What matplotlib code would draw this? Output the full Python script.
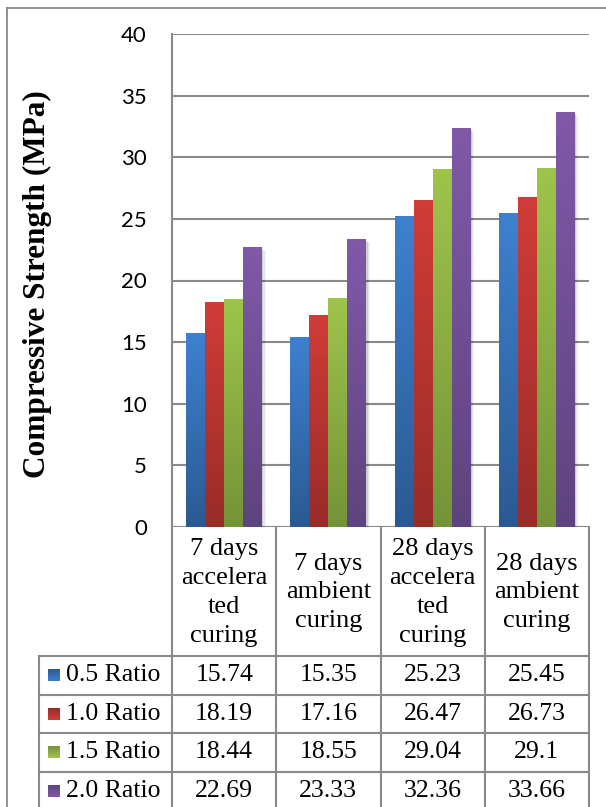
import numpy as np
import matplotlib
matplotlib.use("Agg")
import matplotlib.pyplot as plt
from matplotlib.lines import Line2D
from matplotlib.colors import to_rgb

categories = ["7 days\naccelera\nted\ncuring", "7 days\nambient\ncuring",
              "28 days\naccelera\nted\ncuring", "28 days\nambient\ncuring"]
series_names = ["0.5 Ratio", "1.0 Ratio", "1.5 Ratio", "2.0 Ratio"]
ratio_05 = [15.74, 15.35, 25.23, 25.45]
ratio_10 = [18.19, 17.16, 26.47, 26.73]
ratio_15 = [18.44, 18.55, 29.04, 29.1]
ratio_20 = [22.69, 23.33, 32.36, 33.66]
y_ticks = [0, 5, 10, 15, 20, 25, 30, 35, 40]

all_series = [ratio_05, ratio_10, ratio_15, ratio_20]
# (top colour, bottom colour) for the Excel-style gradient
grad = [("#3e80d0", "#2b5a93"), ("#d03c38", "#992c29"),
        ("#9ec44b", "#759338"), ("#8059a8", "#5e447e")]

W, H = 606, 807
fig = plt.figure(figsize=(W / 100, H / 100), dpi=100)
serif = "Liberation Serif"
grid_col = "#8a8a8a"


def fx(px):
    return px / W


def fy(py):
    return 1 - py / H


def gradient_img(top, bottom, n=64):
    t = np.linspace(0, 1, n)[:, None]
    a = np.array(to_rgb(bottom))
    b = np.array(to_rgb(top))
    img = a[None, :] * (1 - t) + b[None, :] * t
    return img[:, None, :]


# outer border of the chart object
fig.add_artist(Line2D([fx(7), fx(7)], [fy(8), 0], color=grid_col, lw=1.3))
fig.add_artist(Line2D([fx(7), 1], [fy(8), fy(8)], color=grid_col, lw=1.3))

# chart area
left, right, top, bottom = 172, 589, 34, 527
ax = fig.add_axes([fx(left), fy(bottom), fx(right - left), (bottom - top) / H])
n_cat = len(categories)
bw = 0.182
for s, vals in enumerate(all_series):
    for i, v in enumerate(vals):
        x0 = i + 0.5 + (s - 2) * bw
        # soft shadow
        for k, a in enumerate([0.10, 0.06, 0.04]):
            d = 0.012 * (k + 1)
            ax.add_patch(plt.Rectangle((x0 + d, 0), bw, v - 0.1 * (k + 1), color="black",
                                       alpha=a, lw=0, zorder=2))
        ax.imshow(gradient_img(*grad[s]), extent=(x0, x0 + bw, 0, v), origin="lower",
                  aspect="auto", zorder=3, interpolation="bilinear")

ax.set_xlim(0, n_cat)
ax.set_ylim(0, 40)
ax.set_yticks(y_ticks)
ax.set_xticks([])
ax.yaxis.grid(True, color=grid_col, lw=1.5)
ax.set_axisbelow(True)
for sp in ["top", "right", "bottom"]:
    ax.spines[sp].set_visible(False)
ax.spines["left"].set_color(grid_col)
ax.spines["left"].set_linewidth(1.5)
ax.tick_params(axis="y", length=0, pad=18, labelsize=16)
for lab in ax.get_yticklabels():
    lab.set_fontfamily("Lato")

fig.text(fx(37), fy(284), "Compressive Strength (MPa)", rotation=90, ha="center",
         va="center", fontsize=22.5, fontweight="bold", family=serif)

# data table below the chart
tleft = 39
unit = (right - left) / n_cat
tx0 = (tleft - left) / unit
ta = fig.add_axes([fx(tleft), 0, fx(right - tleft), (H - bottom) / H])

lc = dict(color=grid_col, lw=1.5, clip_on=False)
head_h = 129
row_h = 38.5
rows_y = [head_h + r * row_h for r in range(len(series_names) + 1)]
for i in range(n_cat + 1):
    ta.plot([i, i], [0, H - bottom], **lc)
ta.plot([tx0, tx0], [rows_y[0], H - bottom], **lc)
for y in rows_y:
    ta.plot([tx0, n_cat], [y, y], **lc)

for i, c in enumerate(categories):
    ta.text(i + 0.5, head_h / 2 + 1, c, ha="center", va="center", fontsize=19,
            family=serif, linespacing=1.4)

key = 12 / unit
for s, name in enumerate(series_names):
    yc = rows_y[s] + row_h / 2
    kx = tx0 + 9 / unit
    ta.imshow(gradient_img(*grad[s]), extent=(kx, kx + key, yc + 6, yc - 6),
              origin="upper", aspect="auto", zorder=3)
    ta.text(tx0 + 27 / unit, yc, name, ha="left", va="center", fontsize=18.5, family=serif)
    for i, v in enumerate(all_series[s]):
        ta.text(i + 0.5, yc, f"{v:g}", ha="center", va="center", fontsize=18.5, family=serif)
ta.set_xlim(tx0, n_cat)
ta.set_ylim(H - bottom, 0)
ta.axis("off")

fig.savefig("out.png", dpi=100)
